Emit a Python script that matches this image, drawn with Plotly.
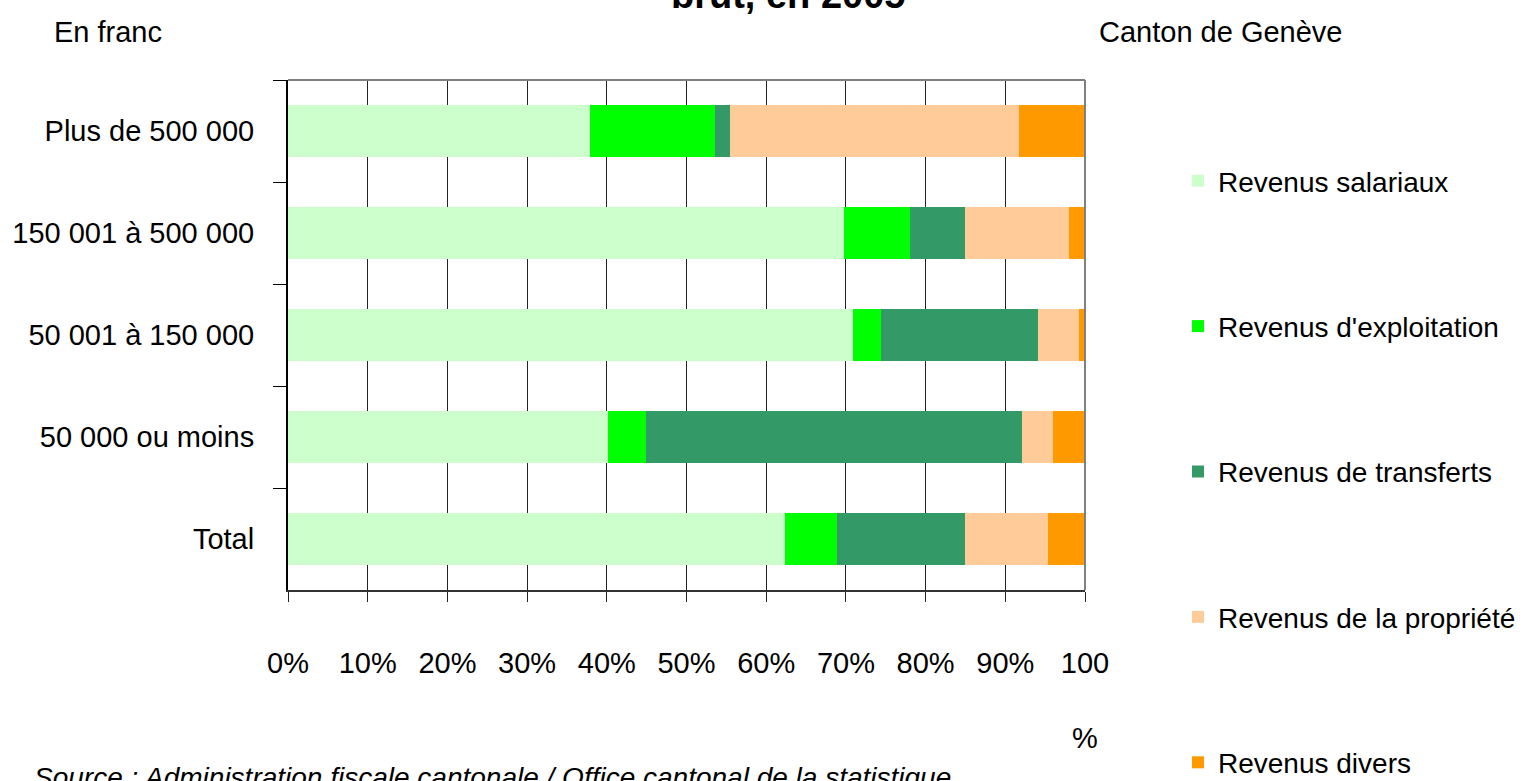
import plotly.graph_objects as go

categories = ["Plus de 500 000", "150 001 à 500 000", "50 001 à 150 000", "50 000 ou moins", "Total"]
salariaux = [37.9, 69.7, 70.9, 40.2, 62.3]
exploitation = [15.7, 8.3, 3.5, 4.7, 6.6]
transferts = [1.9, 7.0, 19.7, 47.2, 16.1]
propriete = [36.2, 13.0, 5.1, 3.9, 10.3]
divers = [8.3, 2.0, 0.8, 4.0, 4.7]

series_names = ["Revenus salariaux", "Revenus d'exploitation", "Revenus de transferts",
                "Revenus de la propriété", "Revenus divers"]
series_values = [salariaux, exploitation, transferts, propriete, divers]
series_colors = ["#CCFFCC", "#00FF00", "#339966", "#FFCC99", "#FF9900"]

tick_vals = [0, 10, 20, 30, 40, 50, 60, 70, 80, 90, 100]
tick_text = ["0%", "10%", "20%", "30%", "40%", "50%", "60%", "70%", "80%", "90%", "100<br><br>%"]

FONT = "Liberation Sans, Arial, sans-serif"
FS = 29

fig = go.Figure()
for i, (name, vals, col) in enumerate(zip(series_names, series_values, series_colors)):
    fig.add_trace(go.Bar(
        y=categories, x=vals, name=name, orientation="h",
        marker=dict(color=col, line=dict(width=0)),
        legendgroup=f"g{i}",
    ))

W, H = 1533, 781
L, R, T, B = 288, 1085, 80, 590

fig.update_layout(
    width=W, height=H,
    barmode="stack", bargap=0.49,
    plot_bgcolor="white", paper_bgcolor="white",
    margin=dict(l=L, r=W - R, t=T, b=H - B, pad=0, autoexpand=False),
    font=dict(family=FONT, size=FS, color="#000"),
    xaxis=dict(range=[0, 100], tickvals=tick_vals, ticktext=tick_text,
               showgrid=True, gridcolor="#222", gridwidth=1,
               showline=True, linecolor="#333", linewidth=2,
               ticks="outside", ticklen=10, tickcolor="#222",
               ticklabelstandoff=36, zeroline=False, automargin=False,
               tickfont=dict(family=FONT, size=FS)),
    yaxis=dict(categoryorder="array", categoryarray=categories, autorange="reversed",
               showgrid=False, showline=True, linecolor="#000", linewidth=2,
               ticks="outside", ticklen=13, tickcolor="#000", tickson="boundaries",
               ticklabelstandoff=26, automargin=False,
               tickfont=dict(family=FONT, size=FS)),
    legend=dict(xref="container", yref="container", x=1178 / W, y=1 - 156 / H,
                xanchor="left", yanchor="top", traceorder="grouped",
                tracegroupgap=106, maxheight=800,
                font=dict(family=FONT, size=28), bgcolor="rgba(0,0,0,0)"),
    showlegend=True,
)

fig.add_shape(type="line", xref="paper", yref="paper", x0=0, x1=1, y0=1, y1=1,
              line=dict(color="#808080", width=2))
fig.add_shape(type="line", xref="paper", yref="paper", x0=1, x1=1, y0=0, y1=1,
              line=dict(color="#808080", width=2))

fig.add_annotation(text="<b>brut, en 2005</b>", xref="paper", yref="paper",
                   x=(788 - L) / (R - L), y=(B + 5) / (B - T), xanchor="center", yanchor="middle",
                   showarrow=False, font=dict(family=FONT, size=38))
fig.add_annotation(text="En franc", xref="paper", yref="paper",
                   x=(52 - L) / (R - L), y=(B - 32) / (B - T), xanchor="left", yanchor="middle",
                   showarrow=False, font=dict(family=FONT, size=FS))
fig.add_annotation(text="Canton de Genève", xref="paper", yref="paper",
                   x=(1097 - L) / (R - L), y=(B - 32) / (B - T), xanchor="left", yanchor="middle",
                   showarrow=False, font=dict(family=FONT, size=FS))
fig.add_annotation(text="<i>Source : Administration fiscale cantonale / Office cantonal de la statistique</i>",
                   xref="paper", yref="paper",
                   x=(32 - L) / (R - L), y=(B - 760) / (B - T), xanchor="left", yanchor="top",
                   showarrow=False, font=dict(family=FONT, size=28))

fig.write_html("out.html", config={"displayModeBar": False},
               post_script="document.body.style.margin='0';")
